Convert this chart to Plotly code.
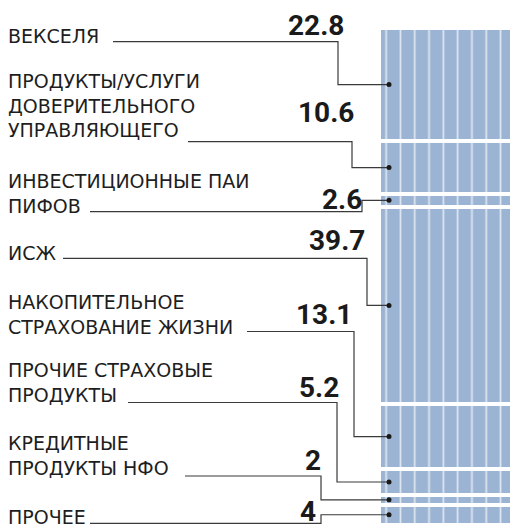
import plotly.graph_objects as go

# ---- data ----
categories = ["ВЕКСЕЛЯ",
              "ПРОДУКТЫ/УСЛУГИ<br>ДОВЕРИТЕЛЬНОГО<br>УПРАВЛЯЮЩЕГО",
              "ИНВЕСТИЦИОННЫЕ ПАИ<br>ПИФОВ",
              "ИСЖ",
              "НАКОПИТЕЛЬНОЕ<br>СТРАХОВАНИЕ ЖИЗНИ",
              "ПРОЧИЕ СТРАХОВЫЕ<br>ПРОДУКТЫ",
              "КРЕДИТНЫЕ<br>ПРОДУКТЫ НФО",
              "ПРОЧЕЕ"]
values = [22.8, 10.6, 2.6, 39.7, 13.1, 5.2, 2, 4]
value_labels = ["22.8", "10.6", "2.6", "39.7", "13.1", "5.2", "2", "4"]

# ---- layout helpers (pixel geometry of the 512x528 canvas) ----
W, H = 512, 528
BAR_TOP_PX, PX_PER_UNIT = 28.0, 4.967
def py(p):  # pixel row -> y data units
    return (p - BAR_TOP_PX) / PX_PER_UNIT

label_cy = [35.5, 106, 193.5, 252.5, 314.3, 382.5, 455.8, 517]
value_cy = [26, 112, 199, 240, 314, 387, 460, 511]
value_rx = [344, 354, 362, 365, 352, 339, 321, 316]
leader_y = [41.7, 141.7, 211.7, 258.3, 331.5, 402.5, 476, 523.3]
leader_x0 = [113, 188, 90, 63, 247, 128, 185, 90]
leader_xc = [338, 352, 362, 367, 354, 337, 321, 321]
DOT_X = 389

BAR_COLOR = "#9bb4d3"
STRIPE = "#dfe7f1"
LINE = "#3a3a3a"

fig = go.Figure()

# stacked bar segments
for c, v in zip(categories, values):
    fig.add_trace(go.Bar(
        x=[0], y=[v], xaxis="x", yaxis="y", width=1,
        marker=dict(color=BAR_COLOR,
                    line=dict(color="white", width=4),
                    pattern=dict(shape="|", size=14.3, solidity=0.12,
                                 fgcolor=STRIPE, bgcolor=BAR_COLOR,
                                 fillmode="replace")),
        showlegend=False, hoverinfo="skip"))

# segment centres (from data)
centers = []
acc = 0
for v in values:
    centers.append(acc + v / 2)
    acc += v

# leader lines + dots
for i, cy in enumerate(centers):
    fig.add_trace(go.Scatter(
        x=[leader_x0[i], leader_xc[i], leader_xc[i], DOT_X],
        y=[py(leader_y[i]), py(leader_y[i]), cy, cy],
        xaxis="x2", yaxis="y", mode="lines",
        line=dict(color=LINE, width=1.2),
        showlegend=False, hoverinfo="skip"))
fig.add_trace(go.Scatter(
    x=[DOT_X] * len(centers), y=centers, xaxis="x2", yaxis="y",
    mode="markers", marker=dict(color="#1a1a1a", size=5),
    showlegend=False, hoverinfo="skip"))

annotations = []
for i, c in enumerate(categories):
    annotations.append(dict(
        text=c, x=6 / W, y=1 - label_cy[i] / H, xref="paper", yref="paper",
        xanchor="left", yanchor="middle", align="left", showarrow=False,
        font=dict(family="DejaVu Sans", size=19, color="#1e1e1e")))
    annotations.append(dict(
        text=value_labels[i], x=(value_rx[i] + 2) / W, y=1 - value_cy[i] / H,
        xref="paper", yref="paper", xanchor="right", yanchor="middle",
        showarrow=False,
        font=dict(family="Roboto", size=28, color="#1a1a1a", weight="bold")))

fig.update_layout(
    width=W, height=H,
    margin=dict(l=0, r=0, t=0, b=0),
    paper_bgcolor="white", plot_bgcolor="rgba(0,0,0,0)",
    barmode="stack", bargap=0,
    xaxis=dict(domain=[379 / W, 1], range=[-0.5, 0.5], visible=False,
               fixedrange=True),
    xaxis2=dict(domain=[0, 1], range=[0, W], visible=False, anchor="y",
                fixedrange=True),
    yaxis=dict(range=[py(H), py(0)], visible=False, fixedrange=True),
    annotations=annotations,
)

fig.write_html("out.html",
               config={"displayModeBar": False, "staticPlot": True},
               post_script="document.body.style.margin='0';"
                           "document.body.style.overflow='hidden';")
